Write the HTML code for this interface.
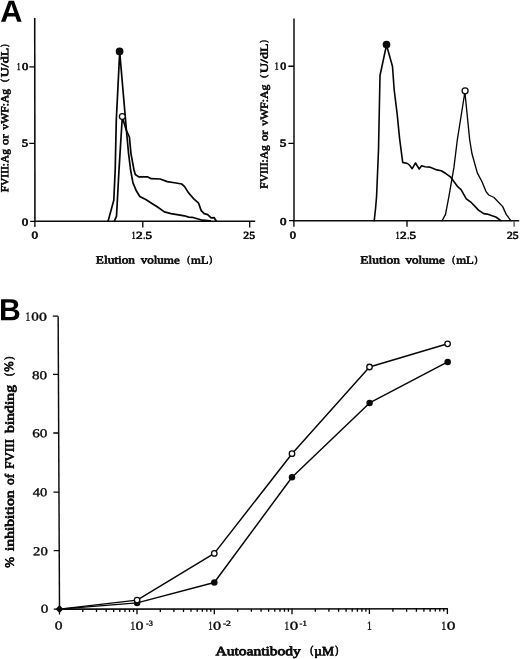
<!DOCTYPE html>
<html>
<head>
<meta charset="utf-8">
<title>Figure</title>
<style>
html,body{margin:0;padding:0;background:#fff;}
body{width:520px;height:659px;overflow:hidden;}
svg{display:block;}
text{font-family:"Liberation Serif","DejaVu Serif",serif;font-weight:normal;fill:#0a0a0a;stroke:#0a0a0a;stroke-linejoin:round;text-rendering:geometricPrecision;}
.lt{stroke-width:0.03em;}
.md{stroke-width:0.045em;}
.hv{stroke-width:0.06em;}
.pl{font-family:"Liberation Sans","DejaVu Sans",sans-serif;font-weight:bold;fill:#000;stroke:none;}
.ax{stroke:#0a0a0a;stroke-width:1.55;fill:none;}
.h{stroke-width:1.4;}
.v{stroke-width:1.45;}
.hb{stroke-width:1.6;}
.g{stroke:#4c4c4c;stroke-width:2;}
.tk{stroke:#000;stroke-width:1.3;fill:none;}
.tk.g{stroke:#444;stroke-width:1.2;}
.cv{stroke:#050505;stroke-width:1.7;fill:none;stroke-linejoin:round;stroke-linecap:round;}
.c2{stroke-width:1.6;}
.c3{stroke-width:1.35;}
.cb{stroke-width:1.45;}
.op{fill:#fff;stroke:#0a0a0a;stroke-width:1.3;}
.fl{fill:#0a0a0a;stroke:none;}
.dm{fill:#0a0a0a;stroke:#0a0a0a;stroke-width:1.3;stroke-linejoin:round;}
</style>
</head>
<body>
<svg width="520" height="659" viewBox="0 0 520 659">
<rect width="520" height="659" fill="#fff"/>

<g id="pa-left">
<text class="pl" transform="translate(0.90,21.80) rotate(0.05)" font-size="30.40"><tspan x="-0.77" y="0.00" textLength="22.20" lengthAdjust="spacingAndGlyphs">A</tspan></text>
<path class="ax" d="M34.72 18L34.95 221.3"/>
<path class="ax h" d="M34.2 221.3H255.2"/>
<path class="tk" d="M29.3 66.85H35M29.3 143.3H35M30.2 221.3H35M34.9 221.3V227.1M142.8 221.3V227.4M249.7 221.3V227.4"/>
<text class="hv" transform="translate(17.50,69.99) rotate(0.05)" font-size="10.49"><tspan x="-0.39" y="0.00" textLength="3.39" lengthAdjust="spacingAndGlyphs">1</tspan><tspan x="4.41" y="0.00" textLength="6.29" lengthAdjust="spacingAndGlyphs">0</tspan></text>
<text class="hv" transform="translate(22.20,146.39) rotate(0.05)" font-size="10.49"><tspan x="-0.35" y="0.00" textLength="6.38" lengthAdjust="spacingAndGlyphs">5</tspan></text>
<text class="hv" transform="translate(21.80,225.49) rotate(0.05)" font-size="10.49"><tspan x="-0.10" y="0.00" textLength="6.49" lengthAdjust="spacingAndGlyphs">0</tspan></text>
<text class="hv" transform="translate(31.60,238.59) rotate(0.05)" font-size="10.49"><tspan x="-0.10" y="0.00" textLength="6.49" lengthAdjust="spacingAndGlyphs">0</tspan></text>
<text class="hv" transform="translate(132.10,238.79) rotate(0.05)" font-size="10.49"><tspan x="-0.43" y="0.00" textLength="3.76" lengthAdjust="spacingAndGlyphs">1</tspan><tspan x="3.80" y="0.00" textLength="6.63" lengthAdjust="spacingAndGlyphs">2</tspan><tspan x="11.13" y="0.00" textLength="1.94" lengthAdjust="spacingAndGlyphs">.</tspan><tspan x="13.44" y="0.00" textLength="6.49" lengthAdjust="spacingAndGlyphs">5</tspan></text>
<text class="hv" transform="translate(243.50,238.79) rotate(0.05)" font-size="10.49"><tspan x="-0.18" y="0.00" textLength="11.69" lengthAdjust="spacingAndGlyphs">25</tspan></text>
<text class="hv" transform="translate(95.80,263.57) rotate(0.05)" font-size="11.05"><tspan x="0.00" y="0.00" textLength="39.19" lengthAdjust="spacingAndGlyphs">Elution</tspan> <tspan x="44.89" y="0.00" textLength="39.07" lengthAdjust="spacingAndGlyphs">volume</tspan> <tspan x="91.38" y="-1.10" font-size="9.51" textLength="2.75" lengthAdjust="spacingAndGlyphs">(</tspan><tspan x="95.23" y="0.00" textLength="17.57" lengthAdjust="spacingAndGlyphs">mL</tspan><tspan x="113.38" y="-1.10" font-size="9.51" textLength="2.94" lengthAdjust="spacingAndGlyphs">)</tspan></text>
<text class="hv" transform="translate(8.23,192.30) rotate(-89.95)" font-size="10.77"><tspan x="0.00" y="0.00" textLength="43.28" lengthAdjust="spacingAndGlyphs">FVIII:Ag</tspan> <tspan x="47.41" y="0.00" textLength="10.52" lengthAdjust="spacingAndGlyphs">or</tspan> <tspan x="62.65" y="0.00" textLength="40.83" lengthAdjust="spacingAndGlyphs">vWF:Ag</tspan> <tspan x="110.36" y="-1.11" font-size="9.51" textLength="3.07" lengthAdjust="spacingAndGlyphs">(</tspan><tspan x="115.14" y="0.00" textLength="29.39" lengthAdjust="spacingAndGlyphs">U/dL</tspan><tspan x="145.23" y="-1.11" font-size="9.51" textLength="2.62" lengthAdjust="spacingAndGlyphs">)</tspan></text>
<path class="cv" d="M108.1 221.1L113.8 200.3L115.2 170.0L116.3 120.0L119.7 52.0L125.2 116.0L126.4 130.0L128.6 153.8L130.6 170.0L132.9 182.7L136.3 190.8L139.8 196.5L146.2 199.8L151.9 203.5L157.2 206.8L164.4 211.9L171.0 213.6L180.0 215.1L184.3 215.8L188.7 217.1L192.1 217.3L197.3 218.8L202.5 220.2L210.3 220.8"/>
<path class="cv" d="M114.4 221.1L116.5 216.2L119.0 170.0L122.3 117.0L126.2 130.0L129.4 137.0L131.0 153.8L134.0 170.0L135.3 174.5L138.7 176.9L147.8 176.9L151.2 178.7L160.1 179.0L167.3 181.6L176.0 183.0L181.7 184.0L184.6 186.6L188.2 192.4L190.4 195.0L193.8 198.9L198.6 203.2L201.2 210.6L204.2 213.6L207.7 214.6L211.1 217.8L214.2 217.7L216.2 221.0"/>
<circle class="fl" cx="119.6" cy="51.4" r="3.85"/>
<circle class="op" cx="122.3" cy="116.5" r="2.9"/>
</g>
<g id="pa-right">
<path class="ax g" d="M294 18.5V221"/>
<path class="ax h" d="M293 220.7H519.2"/>
<path class="tk" d="M288.4 66.25H294M288.4 143.4H294M289 220.7H294M293.9 220.7V226.7M407 220.7V226.8"/>
<path class="tk g" d="M514.1 220.7V226.8"/>
<text class="hv" transform="translate(275.20,69.49) rotate(0.05)" font-size="10.49"><tspan x="-0.45" y="0.00" textLength="3.88" lengthAdjust="spacingAndGlyphs">1</tspan><tspan x="5.01" y="0.00" textLength="5.98" lengthAdjust="spacingAndGlyphs">0</tspan></text>
<text class="hv" transform="translate(280.00,146.39) rotate(0.05)" font-size="10.49"><tspan x="-0.36" y="0.00" textLength="6.59" lengthAdjust="spacingAndGlyphs">5</tspan></text>
<text class="hv" transform="translate(280.00,224.89) rotate(0.05)" font-size="10.49"><tspan x="-0.10" y="0.00" textLength="6.49" lengthAdjust="spacingAndGlyphs">0</tspan></text>
<text class="hv" transform="translate(289.90,238.59) rotate(0.05)" font-size="10.49"><tspan x="-0.09" y="0.00" textLength="6.19" lengthAdjust="spacingAndGlyphs">0</tspan></text>
<text class="hv" transform="translate(396.10,238.79) rotate(0.05)" font-size="10.49"><tspan x="-0.43" y="0.00" textLength="3.76" lengthAdjust="spacingAndGlyphs">1</tspan><tspan x="3.80" y="0.00" textLength="6.63" lengthAdjust="spacingAndGlyphs">2</tspan><tspan x="11.13" y="0.00" textLength="1.94" lengthAdjust="spacingAndGlyphs">.</tspan><tspan x="13.44" y="0.00" textLength="6.49" lengthAdjust="spacingAndGlyphs">5</tspan></text>
<text class="hv" transform="translate(507.20,238.79) rotate(0.05)" font-size="10.49"><tspan x="-0.17" y="0.00" textLength="11.59" lengthAdjust="spacingAndGlyphs">25</tspan></text>
<text class="hv" transform="translate(360.30,263.57) rotate(0.05)" font-size="11.05"><tspan x="0.00" y="0.00" textLength="39.69" lengthAdjust="spacingAndGlyphs">Elution</tspan> <tspan x="45.09" y="0.00" textLength="39.37" lengthAdjust="spacingAndGlyphs">volume</tspan> <tspan x="91.88" y="-1.10" font-size="9.51" textLength="2.75" lengthAdjust="spacingAndGlyphs">(</tspan><tspan x="95.83" y="0.00" textLength="17.67" lengthAdjust="spacingAndGlyphs">mL</tspan><tspan x="114.18" y="-1.10" font-size="9.51" textLength="2.94" lengthAdjust="spacingAndGlyphs">)</tspan></text>
<text class="hv" transform="translate(267.58,188.70) rotate(-89.95)" font-size="10.77"><tspan x="0.00" y="0.00" textLength="43.50" lengthAdjust="spacingAndGlyphs">FVIII:Ag</tspan> <tspan x="47.65" y="0.00" textLength="10.57" lengthAdjust="spacingAndGlyphs">or</tspan> <tspan x="62.97" y="0.00" textLength="41.04" lengthAdjust="spacingAndGlyphs">vWF:Ag</tspan> <tspan x="110.92" y="-1.11" font-size="9.51" textLength="3.08" lengthAdjust="spacingAndGlyphs">(</tspan><tspan x="115.72" y="0.00" textLength="29.54" lengthAdjust="spacingAndGlyphs">U/dL</tspan><tspan x="145.97" y="-1.11" font-size="9.51" textLength="2.64" lengthAdjust="spacingAndGlyphs">)</tspan></text>
<path class="cv c2" d="M374.2 220.8L375.6 208.0L376.6 196.0L378.5 150.0L380.0 75.5L386.5 45.0L392.5 66.5L394.2 90.0L397.2 114.3L399.6 138.6L402.7 162.4L407.5 163.5L409.8 165.5L412.2 168.7L415.5 163.0L419.2 169.0L421.6 165.8L425.0 166.7L429.6 167.1L436.9 169.9L441.2 170.7L445.5 173.3L450.8 177.2L457.7 186.7L461.2 189.8L466.3 198.8L471.5 202.7L478.5 210.1L483.7 213.6L487.1 214.1L495.8 217.0L501.0 220.6"/>
<path class="cv c3" d="M442.1 220.8L445.5 214.4L448.8 197.1L453.9 167.7L457.3 140.0L464.9 92.0L469.7 140.0L472.0 153.8L477.3 172.9L481.9 181.5L486.2 191.9L488.8 195.0L494.0 197.5L502.7 206.6L506.2 214.4L511.0 220.8"/>
<circle class="fl" cx="386.5" cy="44.5" r="3.85"/>
<circle class="op" cx="465.1" cy="90.8" r="3"/>
</g>
<g id="pb">
<text class="pl" transform="translate(1.10,320.30) rotate(0.05)" font-size="30.69"><tspan x="-2.04" y="0.00" textLength="21.78" lengthAdjust="spacingAndGlyphs">B</tspan></text>
<path class="ax v" d="M58.15 316.2L59.5 609.1"/>
<path class="ax hb" d="M58.8 609.15L447.9 608.75"/>
<path class="tk" d="M52.8 316.2H57.9M53.0 374.4H58.2M53.3 433.0H58.6M53.5 492.2H58.9M53.7 550.6H59.2M53.8 609.1H59"/>
<path class="tk" d="M82.8 609.08V611.98M96.5 609.06V611.96M106.2 609.05V611.95M113.7 609.05V611.95M119.8 609.04V611.94M125.0 609.03V611.93M129.5 609.03V611.93M133.5 609.03V611.93M160.3 609.00V611.90M173.9 608.99V611.89M183.5 608.98V611.88M191.0 608.97V611.87M197.2 608.96V611.86M202.3 608.96V611.86M206.8 608.95V611.85M210.8 608.95V611.85M237.7 608.92V611.82M251.4 608.91V611.81M261.1 608.90V611.80M268.6 608.89V611.79M274.8 608.88V611.78M280.0 608.88V611.78M284.5 608.87V611.77M288.4 608.87V611.77M315.3 608.84V611.74M328.9 608.83V611.73M338.6 608.82V611.72M346.1 608.81V611.71M352.2 608.81V611.71M357.4 608.80V611.70M361.9 608.80V611.70M365.9 608.79V611.69M392.9 608.77V611.67M406.6 608.75V611.65M416.4 608.74V611.64M423.9 608.74V611.64M430.1 608.73V611.63M435.3 608.72V611.62M439.8 608.72V611.62M443.8 608.72V611.62M59.5 609.10V614.40M137.0 609.02V614.32M214.3 608.94V614.24M292.0 608.87V614.17M369.4 608.79V614.09M447.4 608.71V614.01"/>
<text class="lt" transform="translate(26.20,320.62) rotate(0.05)" font-size="12.12"><tspan x="-0.68" y="0.00" textLength="4.71" lengthAdjust="spacingAndGlyphs">1</tspan><tspan x="5.06" y="0.00" textLength="7.58" lengthAdjust="spacingAndGlyphs">0</tspan><tspan x="12.84" y="0.00" textLength="7.91" lengthAdjust="spacingAndGlyphs">0</tspan></text>
<text class="lt" transform="translate(32.40,379.22) rotate(0.05)" font-size="12.12"><tspan x="-0.34" y="0.00" textLength="15.08" lengthAdjust="spacingAndGlyphs">80</tspan></text>
<text class="lt" transform="translate(32.60,437.32) rotate(0.05)" font-size="12.12"><tspan x="-0.42" y="0.00" textLength="15.16" lengthAdjust="spacingAndGlyphs">60</tspan></text>
<text class="lt" transform="translate(32.90,496.32) rotate(0.05)" font-size="12.12"><tspan x="-0.07" y="0.00" textLength="14.50" lengthAdjust="spacingAndGlyphs">40</tspan></text>
<text class="lt" transform="translate(33.50,555.32) rotate(0.05)" font-size="12.12"><tspan x="-0.44" y="0.00" textLength="14.67" lengthAdjust="spacingAndGlyphs">20</tspan></text>
<text class="lt" transform="translate(41.20,612.82) rotate(0.05)" font-size="12.12"><tspan x="-0.34" y="0.00" textLength="7.58" lengthAdjust="spacingAndGlyphs">0</tspan></text>
<text class="lt" transform="translate(55.20,629.62) rotate(0.05)" font-size="12.12"><tspan x="-0.35" y="0.00" textLength="7.80" lengthAdjust="spacingAndGlyphs">0</tspan></text>
<text class="lt" transform="translate(131.20,629.72) rotate(0.05)" font-size="12.12"><tspan x="-0.66" y="0.00" textLength="4.58" lengthAdjust="spacingAndGlyphs">1</tspan><tspan x="4.24" y="0.00" textLength="8.02" lengthAdjust="spacingAndGlyphs">0</tspan><tspan x="14.81" y="-4.03" font-size="7.59" textLength="6.90" lengthAdjust="spacingAndGlyphs">-3</tspan></text>
<text class="lt" transform="translate(209.00,629.72) rotate(0.05)" font-size="12.12"><tspan x="-0.64" y="0.00" textLength="4.44" lengthAdjust="spacingAndGlyphs">1</tspan><tspan x="4.13" y="0.00" textLength="8.13" lengthAdjust="spacingAndGlyphs">0</tspan><tspan x="13.88" y="-4.03" font-size="7.59" textLength="8.11" lengthAdjust="spacingAndGlyphs">-2</tspan></text>
<text class="lt" transform="translate(285.10,629.72) rotate(0.05)" font-size="12.12"><tspan x="-0.66" y="0.00" textLength="4.58" lengthAdjust="spacingAndGlyphs">1</tspan><tspan x="4.62" y="0.00" textLength="8.46" lengthAdjust="spacingAndGlyphs">0</tspan><tspan x="14.50" y="-4.03" font-size="7.59" textLength="7.30" lengthAdjust="spacingAndGlyphs">-1</tspan></text>
<text class="lt" transform="translate(367.80,629.72) rotate(0.05)" font-size="12.12"><tspan x="-0.70" y="0.00" textLength="4.84" lengthAdjust="spacingAndGlyphs">1</tspan></text>
<text class="lt" transform="translate(441.90,629.72) rotate(0.05)" font-size="12.12"><tspan x="-0.72" y="0.00" textLength="4.97" lengthAdjust="spacingAndGlyphs">1</tspan><tspan x="4.91" y="0.00" textLength="8.68" lengthAdjust="spacingAndGlyphs">0</tspan></text>
<text class="hv" transform="translate(215.20,655.22) rotate(0.05)" font-size="12.73"><tspan x="0.31" y="0.00" textLength="85.39" lengthAdjust="spacingAndGlyphs">Autoantibody</tspan> <tspan x="95.06" y="-1.76" font-size="11.33" textLength="3.07" lengthAdjust="spacingAndGlyphs">(</tspan><tspan x="99.17" y="0.00" textLength="19.64" lengthAdjust="spacingAndGlyphs">µM</tspan><tspan x="119.98" y="-1.76" font-size="11.33" textLength="3.04" lengthAdjust="spacingAndGlyphs">)</tspan></text>
<text class="hv" transform="translate(13.72,567.80) rotate(-89.95)" font-size="12.73"><tspan x="-0.06" y="0.00" textLength="10.81" lengthAdjust="spacingAndGlyphs">%</tspan> <tspan x="16.86" y="0.00" textLength="60.40" lengthAdjust="spacingAndGlyphs">inhibition</tspan> <tspan x="82.90" y="0.00" textLength="11.11" lengthAdjust="spacingAndGlyphs">of</tspan> <tspan x="99.10" y="0.00" textLength="29.66" lengthAdjust="spacingAndGlyphs">FVIII</tspan> <tspan x="134.87" y="0.00" textLength="47.98" lengthAdjust="spacingAndGlyphs">binding</tspan> <tspan x="191.76" y="-1.76" font-size="11.33" textLength="3.07" lengthAdjust="spacingAndGlyphs">(</tspan><tspan x="195.94" y="-0.80" textLength="10.30" lengthAdjust="spacingAndGlyphs">%</tspan><tspan x="207.98" y="-1.76" font-size="11.33" textLength="3.15" lengthAdjust="spacingAndGlyphs">)</tspan></text>
<path class="cv cb" d="M59.5 609.1L137.1 600.1L214.3 553.4L292.0 453.7L369.5 367.0L447.6 343.8"/>
<path class="cv cb" d="M59.5 609.1L137.1 602.9L214.3 582.5L292.0 477.2L369.6 402.9L447.7 361.9"/>
<path class="dm" d="M59.5 606.05L62.55 609.1L59.5 612.15L56.45 609.1Z"/>
<circle class="fl" cx="137.1" cy="602.9" r="3.25"/>
<circle class="fl" cx="214.3" cy="582.5" r="3.25"/>
<circle class="fl" cx="292.0" cy="477.2" r="3.25"/>
<circle class="fl" cx="369.6" cy="402.9" r="3.25"/>
<circle class="fl" cx="447.7" cy="361.9" r="3.25"/>
<circle class="op" cx="137.1" cy="600.1" r="2.75"/>
<circle class="op" cx="214.3" cy="553.4" r="2.75"/>
<circle class="op" cx="292.0" cy="453.7" r="2.75"/>
<circle class="op" cx="369.5" cy="367.0" r="2.75"/>
<circle class="op" cx="447.6" cy="343.8" r="2.75"/>
</g>
</svg>
</body>
</html>
